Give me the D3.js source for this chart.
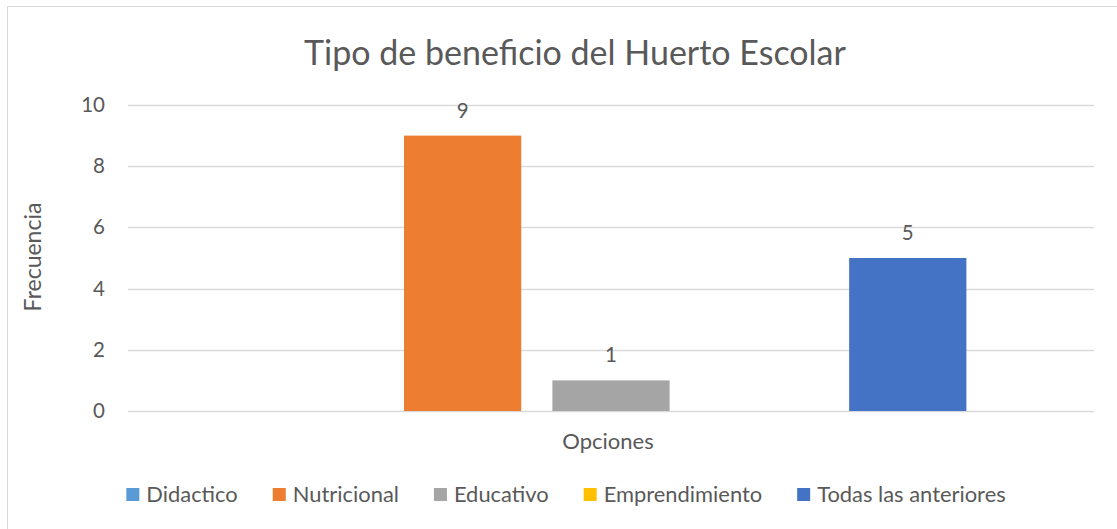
<!DOCTYPE html>
<html>
<head>
<meta charset="utf-8">
<script src="https://cdn.jsdelivr.net/npm/d3@7"></script>
<style>
  body { margin: 0; background: #fff; }
  text { font-family: Lato, "Open Sans", sans-serif; fill: #595959; }
</style>
</head>
<body>
<div id="chart"></div>
<script>
// data
var categories = ["Didactico", "Nutricional", "Educativo", "Emprendimiento", "Todas las anteriores"];
var values = [0, 9, 1, 0, 5];
var colors = ["#5B9BD5", "#ED7D31", "#A5A5A5", "#FFC000", "#4472C4"];
var yTicks = [0, 2, 4, 6, 8, 10];

var width = 1117, height = 529;
var plot = { left: 128, right: 1094, top: 105, bottom: 411 };

var svg = d3.select("#chart").append("svg")
    .attr("width", width)
    .attr("height", height);

// chart frame (runs off right and bottom like the source)
svg.append("rect")
    .attr("x", 7.5).attr("y", 6.5)
    .attr("width", 1200).attr("height", 600)
    .attr("fill", "none")
    .attr("stroke", "#d9d9d9");

var y = d3.scaleLinear().domain([0, 10]).range([plot.bottom, plot.top]);

// one group on the category axis, five series inside it
var x0 = d3.scaleBand().domain(["Opciones"])
    .range([plot.left, plot.right])
    .paddingOuter(0.151);
var x1 = d3.scaleBand().domain(categories)
    .range([0, x0.bandwidth()])
    .paddingInner(0.21)
    .paddingOuter(0.105);

// gridlines
svg.append("g").selectAll("line")
    .data(yTicks)
    .enter().append("line")
    .attr("x1", plot.left).attr("x2", plot.right)
    .attr("y1", function(d) { return Math.round(y(d)) + 0.5; })
    .attr("y2", function(d) { return Math.round(y(d)) + 0.5; })
    .attr("stroke", "#d9d9d9")
    .attr("stroke-width", 1.3);

// y axis labels
var yAxis = d3.axisLeft(y).tickValues(yTicks).tickSize(0).tickPadding(23);
var gy = svg.append("g")
    .attr("transform", "translate(" + plot.left + ",0)")
    .call(yAxis);
gy.select(".domain").remove();
gy.selectAll("text")
    .style("font-size", "20.5px")
    .style("font-family", "Lato, 'Open Sans', sans-serif")
    .attr("fill", "#595959");

// bars
var gx = x0("Opciones");
svg.append("g").selectAll("rect")
    .data(values)
    .enter().append("rect")
    .attr("x", function(d, i) { return gx + x1(categories[i]); })
    .attr("y", function(d) { return y(d); })
    .attr("width", x1.bandwidth())
    .attr("height", function(d) { return y(0) - y(d); })
    .attr("fill", function(d, i) { return colors[i]; });

// data labels (zeros are not labelled in the source)
svg.append("g").selectAll("text")
    .data(values)
    .enter().filter(function(d) { return d > 0; })
    .append("text")
    .attr("x", function(d) { return gx + x1(categories[values.indexOf(d)]) + x1.bandwidth() / 2; })
    .attr("y", function(d) { return y(d) - 18; })
    .attr("text-anchor", "middle")
    .style("font-size", "20.5px")
    .text(function(d) { return d; });

// title
svg.append("text")
    .attr("x", 575).attr("y", 65)
    .attr("text-anchor", "middle")
    .style("font-size", "34px")
    .text("Tipo de beneficio del Huerto Escolar");

// axis titles
svg.append("text")
    .attr("x", 608).attr("y", 449)
    .attr("text-anchor", "middle")
    .style("font-size", "22px")
    .text("Opciones");

svg.append("text")
    .attr("transform", "translate(41,257) rotate(-90)")
    .attr("text-anchor", "middle")
    .style("font-size", "23px")
    .text("Frecuencia");

// legend
var legend = svg.append("g");
var items = legend.selectAll("g")
    .data(categories)
    .enter().append("g");
items.append("rect")
    .attr("width", 13).attr("height", 13)
    .attr("y", -14)
    .attr("fill", function(d, i) { return colors[i]; });
items.append("text")
    .attr("x", 20)
    .attr("y", 0)
    .style("font-size", "21.9px")
    .text(function(d) { return d; });

var cursor = 0;
items.each(function() {
    var w = d3.select(this).select("text").node().getComputedTextLength();
    d3.select(this).attr("transform", "translate(" + cursor + ",0)");
    cursor += 20 + w + 35;
});
var total = cursor - 35;
legend.attr("transform", "translate(" + (566 - total / 2) + ",502)");
</script>
</body>
</html>
